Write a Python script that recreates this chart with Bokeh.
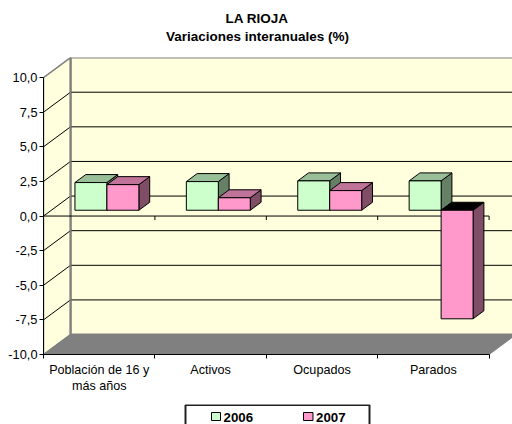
from bokeh.plotting import figure
from bokeh.layouts import column
from bokeh.models import Range1d, LinearAxis, FixedTicker
from bokeh.embed import file_html
from bokeh.resources import INLINE

title_lines = ["LA RIOJA", "Variaciones interanuales (%)"]
categories = ["Población de 16 y\nmás años", "Activos", "Ocupados", "Parados"]
series_2006 = [2.0, 2.07, 2.12, 2.12]
series_2007 = [1.85, 0.9, 1.42, -7.84]
y_ticks = [-10, -7.5, -5, -2.5, 0, 2.5, 5, 7.5, 10]
y_labels = {-10: "-10,0", -7.5: "-7,5", -5: "-5,0", -2.5: "-2,5", 0: "0,0",
            2.5: "2,5", 5: "5,0", 7.5: "7,5", 10: "10,0"}
legend_labels = ["2006", "2007"]

PX_X = 111.4     # pixels per category
PX_Y = 13.87     # pixels per value unit
L, T, B = 43, 57, 354.5
W = 512
TOP_H, MAIN_H, LEG_H = 44, 360, 20
DX = 27 / PX_X   # full depth of the 3D box in x units
DY = 20 / PX_Y   # full depth of the 3D box in y units
FONT = "Liberation Sans"

# title strip: its frame lines up with the chart's frame, one data unit per pixel
tp = figure(width=W, height=TOP_H, output_backend="svg", toolbar_location=None,
            x_range=Range1d(L, W), y_range=Range1d(TOP_H, 0), min_border=0,
            x_axis_location=None, y_axis_location=None, outline_line_color=None,
            margin=(0, 0, 0, 0))
tp.grid.visible = False
tp.text(x=[256.5, 257], y=[18, 36], text=title_lines, text_baseline="middle", text_align="center",
        text_font={"value": FONT}, text_font_style="bold", text_font_size="13.5px", text_color="black")

p = figure(width=W, height=MAIN_H, output_backend="svg", toolbar_location=None,
           x_range=Range1d(0, (W - L) / PX_X), y_range=Range1d(-10, -10 + (B - T) / PX_Y),
           min_border_left=L, min_border_right=0, min_border_top=T - TOP_H,
           min_border_bottom=TOP_H + MAIN_H - 354,
           x_axis_location=None, y_axis_location=None, outline_line_color=None,
           margin=(0, 0, 0, 0))
p.grid.visible = False


def P(c, v, d=0.0):
    return c + d * DX, v + d * DY


def poly(points):
    return [q[0] for q in points], [q[1] for q in points]


n = len(categories)
GRAY = "#808080"
WALL = "#FFFFDD"

xs, ys = poly([P(0, -10, 1), P(n, -10, 1), P(n, 10, 1), P(0, 10, 1)])
p.patch(xs, ys, fill_color=WALL, line_color=GRAY, line_width=2)
xs, ys = poly([P(0, -10, 0), P(0, -10, 1), P(0, 10, 1), P(0, 10, 0)])
p.patch(xs, ys, fill_color=WALL, line_color=GRAY, line_width=1.5)
xs, ys = poly([P(0, -10, 0), P(n, -10, 0), P(n, -10, 1), P(0, -10, 1)])
p.patch(xs, ys, fill_color=GRAY, line_color=GRAY, line_width=1)

for t in y_ticks[1:-1]:
    a, b, c = P(0, t, 0), P(0, t, 1), P(n, t, 1)
    p.line([a[0], b[0], c[0]], [a[1], b[1], c[1]], line_color="black", line_width=1)

xs, ys = poly([P(0, -10, 1), P(0, 10, 1)])
p.line(xs, ys, line_color=GRAY, line_width=2)

p.line([0, n], [0, 0], line_color="black", line_width=1)
p.segment(x0=list(range(n + 1)), y0=[0] * (n + 1), x1=list(range(n + 1)),
          y1=[-4 / PX_Y] * (n + 1), line_color="black", line_width=1)

BAR_W = 0.287
GAP = 0.212
D0, D1 = 0.29, 0.69


def bars(values, offset, front, top, side):
    sx, sy, tx, ty, tc, fx, fy = [], [], [], [], [], [], []
    for i, v in enumerate(values):
        x0 = i + GAP + offset * BAR_W
        x1 = x0 + BAR_W
        hi, lo = max(v, 0), min(v, 0)
        q = poly([P(x1, lo, D0), P(x1, lo, D1), P(x1, hi, D1), P(x1, hi, D0)])
        sx.append(q[0]); sy.append(q[1])
        q = poly([P(x0, hi, D0), P(x1, hi, D0), P(x1, hi, D1), P(x0, hi, D1)])
        tx.append(q[0]); ty.append(q[1]); tc.append("black" if v < 0 else top)
        q = poly([P(x0, lo, D0), P(x1, lo, D0), P(x1, hi, D0), P(x0, hi, D0)])
        fx.append(q[0]); fy.append(q[1])
    p.patches(sx, sy, fill_color=side, line_color="black", line_width=1)
    p.patches(tx, ty, fill_color=tc, line_color="black", line_width=1)
    p.patches(fx, fy, fill_color=front, line_color="black", line_width=1)


bars(series_2006, 0, "#CCFFCC", "#99BF99", "#668066")
bars(series_2007, 1, "#FF99CC", "#BF7399", "#804D66")

ax = LinearAxis(bounds=(-10, 10), ticker=FixedTicker(ticks=y_ticks),
                major_label_overrides=y_labels, major_label_text_font=FONT,
                major_label_text_font_size="12.8px", major_label_text_color="black",
                major_tick_in=0, major_tick_out=4, minor_tick_out=0, minor_tick_in=0,
                axis_line_color="black", major_label_standoff=2)
p.add_layout(ax, "left")
bx = LinearAxis(bounds=(0, n), ticker=FixedTicker(ticks=[i + 0.5 for i in range(n)],
                                                  minor_ticks=list(range(n + 1))),
                major_label_overrides={i + 0.5: c for i, c in enumerate(categories)},
                major_label_text_font=FONT, major_label_text_font_size="12.6px",
                major_label_text_color="black", major_tick_in=0, major_tick_out=0,
                minor_tick_in=0, minor_tick_out=4, minor_tick_line_color="black",
                axis_line_color="black", major_label_standoff=4)
p.add_layout(bx, "below")

# legend strip: its frame lines up with the chart's frame, one data unit per pixel
lg = figure(width=W, height=LEG_H, output_backend="svg", toolbar_location=None,
            x_range=Range1d(L, W), y_range=Range1d(LEG_H, 0), min_border=0,
            x_axis_location=None, y_axis_location=None, outline_line_color=None,
            margin=(0, 0, 0, 0))
lg.grid.visible = False
lg.quad(left=[185], right=[369], top=[0.5], bottom=[30], fill_color="white",
        line_color="#222222", line_width=2)
lg.quad(left=[211, 303], right=[220, 312.5], top=[8, 8], bottom=[16, 16],
        fill_color=["#CCFFCC", "#FF99CC"], line_color="black", line_width=1)
lg.text(x=[223, 315.5], y=[12.7, 12.7], text=legend_labels, text_baseline="middle", text_align="left",
        text_font={"value": FONT}, text_font_style="bold", text_font_size="13.3px", text_color="black")

open("out.html", "w").write(file_html(column(tp, p, lg, spacing=0, margin=(0, 0, 0, 0)), INLINE))
